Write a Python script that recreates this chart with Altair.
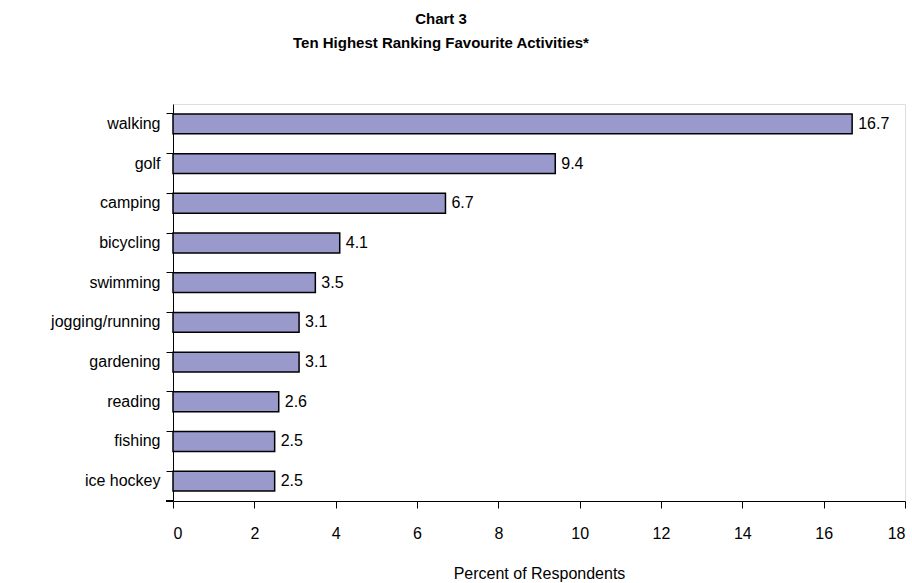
import altair as alt
import pandas as pd

activities = ["walking", "golf", "camping", "bicycling", "swimming",
              "jogging/running", "gardening", "reading", "fishing", "ice hockey"]
percents = [16.7, 9.4, 6.7, 4.1, 3.5, 3.1, 3.1, 2.6, 2.5, 2.5]
x_ticks = [0, 2, 4, 6, 8, 10, 12, 14, 16, 18]

df = pd.DataFrame({"activity": activities, "percent": percents})

FONT = "Liberation Sans"

y_enc = alt.Y("activity:N", sort=activities, title=None,
              scale=alt.Scale(paddingInner=0.5, paddingOuter=0.25),
              axis=alt.Axis(bandPosition=0, labelFontSize=16, labelFont=FONT,
                            labelColor="black", domainColor="black", tickColor="black",
                            tickSize=7, labelPadding=6, grid=False))
x_enc = alt.X("percent:Q", title="Percent of Respondents",
              scale=alt.Scale(domain=[0, 18], nice=False),
              axis=alt.Axis(values=x_ticks, labelFontSize=16, labelFont=FONT,
                            labelColor="black", domainColor="black", tickColor="black",
                            tickSize=7, labelPadding=17, grid=False,
                            titleFontSize=16, titleFont=FONT, titleFontWeight="normal",
                            titleColor="black", titlePadding=24))

bars = alt.Chart(df).mark_bar(color="#9999CC", stroke="black", strokeWidth=1.5).encode(
    x=x_enc, y=y_enc)

labels = alt.Chart(df).mark_text(align="left", baseline="middle", dx=6,
                                 fontSize=16, font=FONT, color="black").encode(
    x="percent:Q", y=alt.Y("activity:N", sort=activities), text=alt.Text("percent:Q", format=".1f"))

bottom_tick = alt.Chart(df).mark_rule(color="black").encode(
    x=alt.value(-7), x2=alt.value(0), y=alt.value(397))

chart = (bars + labels + bottom_tick).properties(
    width=732, height=397,
    autosize=alt.AutoSizeParams(type="none"),
    padding={"left": 173, "top": 104, "right": 7, "bottom": 82},
    title=alt.TitleParams(["Chart 3", "Ten Highest Ranking Favourite Activities*"],
                          font=FONT, fontSize=15, fontWeight="bold", color="black",
                          anchor="middle", dx=-98, offset=53, lineHeight=24),
).configure_view(stroke=None).configure(background="white")

chart.save("out.html", embed_options={"renderer": "svg", "actions": False})
